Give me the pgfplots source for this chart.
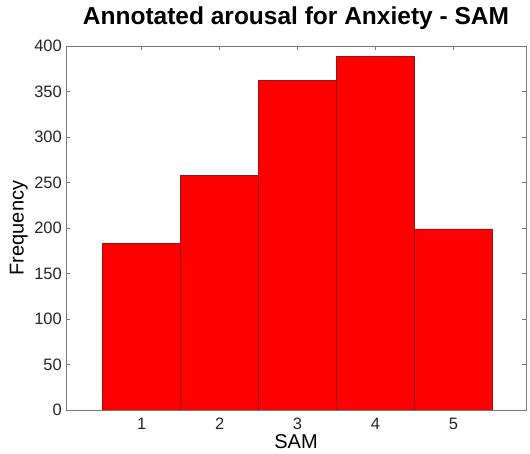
\documentclass[border=0pt]{standalone}
\usepackage{pgfplots}
\pgfplotsset{compat=1.18}
\usepackage{fontspec}
\setmainfont{Liberation Sans}

\definecolor{barred}{RGB}{255,0,0}
\definecolor{baredge}{RGB}{150,20,20}
\definecolor{axisgray}{RGB}{120,120,120}

\begin{document}
\begin{tikzpicture}[x=1pt,y=1pt]
\useasboundingbox (-66,-44) rectangle (464,410);
\begin{axis}[
  at={(0,0)}, anchor=south west,
  scale only axis,
  width=460pt, height=364pt,
  xmin=0.03, xmax=5.93,
  ymin=0, ymax=400,
  xtick={1,2,3,4,5},
  ytick={0,50,...,400},
  tick align=inside,
  major tick length=4pt,
  tick style={axisgray, line width=0.6pt},
  axis line style={axisgray, line width=0.7pt},
  /pgf/number format/assume math mode=true,
  ticklabel style={font=\fontsize{16.5}{18}\selectfont, text=black!85, inner sep=0pt},
  xticklabel style={anchor=north, yshift=-7.5pt},
  yticklabel style={anchor=east, xshift=-4pt},
  title={\textbf{Annotated arousal for Anxiety - SAM}},
  title style={font=\fontsize{24.5}{27}\selectfont,
    at={(axis description cs:0.5,1)}, anchor=base, inner sep=0pt, yshift=15pt},
  xlabel={SAM},
  ylabel={Frequency},
  label style={font=\fontsize{20}{22}\selectfont, inner sep=0pt},
  xlabel style={at={(axis description cs:0.5,0)}, anchor=north, yshift=-24pt},
  ylabel style={at={(axis description cs:-0.0826,0.5)}, anchor=south},
]
\addplot[ybar, bar width=1, fill=barred, draw=baredge, line width=0.5pt]
  coordinates {(1,183) (2,258) (3,362) (4,389) (5,199)};
\end{axis}
\end{tikzpicture}
\end{document}
